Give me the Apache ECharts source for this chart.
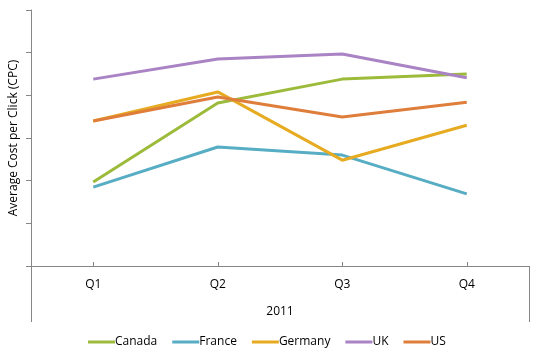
<!DOCTYPE html>
<html>
<head>
<meta charset="utf-8">
<script src="https://cdn.jsdelivr.net/npm/echarts@6/dist/echarts.min.js"></script>
<style>
  html, body { margin: 0; padding: 0; background: #fff; }
  #chart { width: 557px; height: 351px; }
</style>
</head>
<body>
<div id="chart"></div>
<script>
  // quarters and the year group under them
  var quarters = ['Q1', 'Q2', 'Q3', 'Q4']
  var years = ['2011']

  // average CPC per country
  var canada = [1.97, 3.82, 4.38, 4.50]
  var france = [1.85, 2.79, 2.60, 1.69]
  var germany = [3.40, 4.08, 2.48, 3.30]
  var uk = [4.38, 4.85, 4.97, 4.41]
  var us = [3.40, 3.96, 3.49, 3.84]

  var names = ['Canada', 'France', 'Germany', 'UK', 'US']
  var colors = ['#9dbb3b', '#57adc3', '#e6ab21', '#a983c4', '#df7d3b']
  var values = [canada, france, germany, uk, us]

  var font = '"Open Sans", sans-serif'
  var axisGray = '#868686'

  var chart = echarts.init(document.getElementById('chart'))

  chart.setOption({
    animation: false,
    textStyle: { fontFamily: font, color: '#000' },
    grid: { left: 26, right: 28, top: 10, bottom: 85, containLabel: false },
    legend: {
      top: 336,
      left: 88,
      padding: 0,
      itemWidth: 27,
      itemHeight: 3,
      itemGap: 15,
      icon: 'rect',
      textStyle: { fontFamily: font, fontSize: 12, color: '#000', padding: [0, 0, 0, -5] },
      data: names
    },
    xAxis: [{
      type: 'category',
      data: quarters,
      boundaryGap: true,
      axisLine: { show: true, lineStyle: { color: axisGray, width: 1 } },
      axisTick: { show: true, alignWithLabel: true, length: 4, inside: true, lineStyle: { color: axisGray } },
      axisLabel: { margin: 13, fontSize: 12, color: '#000', fontFamily: font },
      splitLine: { show: false }
    }, {
      type: 'category',
      data: years,
      position: 'bottom',
      boundaryGap: true,
      axisLine: { show: false },
      axisTick: { show: true, length: 56, lineStyle: { color: axisGray } },
      axisLabel: { margin: 40, fontSize: 12, color: '#000', fontFamily: font },
      splitLine: { show: false }
    }],
    yAxis: {
      type: 'value',
      min: 0,
      max: 6,
      interval: 1,
      name: 'Average Cost per Click (CPC)',
      nameLocation: 'middle',
      nameGap: 11,
      nameTextStyle: { fontSize: 12, color: '#000', fontFamily: font },
      axisLine: { show: true, lineStyle: { color: axisGray, width: 1 } },
      axisTick: { show: true, length: 5, lineStyle: { color: axisGray } },
      axisLabel: { show: false },
      splitLine: { show: false }
    },
    series: names.map(function (n, i) {
      return {
        name: n,
        type: 'line',
        data: values[i],
        symbol: 'none',
        color: colors[i],
        lineStyle: { width: 3, color: colors[i] }
      }
    })
  })
</script>
</body>
</html>
